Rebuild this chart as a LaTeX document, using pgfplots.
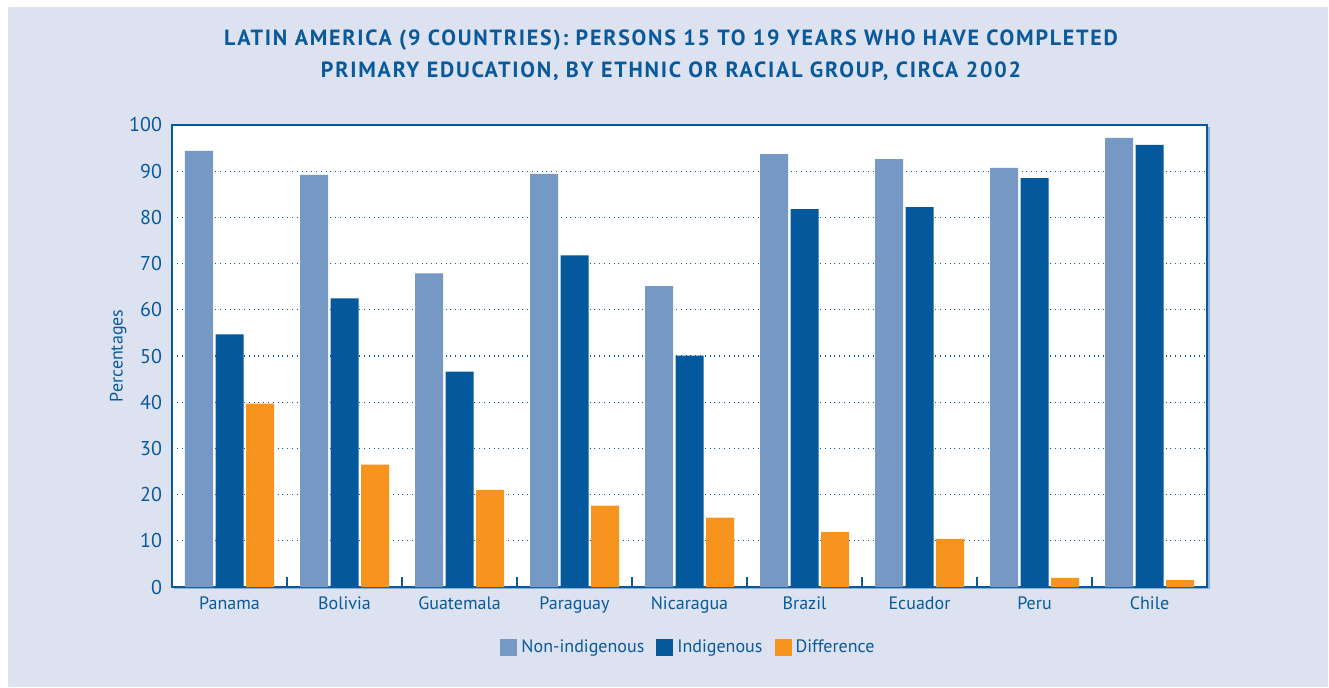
\documentclass[border=0pt]{standalone}
\usepackage{fontspec}
\setmainfont{PT Sans}
\newfontfamily\titlefont[LetterSpace=8]{PT Sans}
\usepackage{pgfplots}
\pgfplotsset{compat=1.18}
\definecolor{panel}{HTML}{DCE2EF}
\definecolor{nicol}{HTML}{7698C5}
\definecolor{icol}{HTML}{03599C}
\definecolor{dcol}{HTML}{F7941D}
\definecolor{txt}{HTML}{0A5A9B}
\definecolor{shadowcol}{HTML}{8CAEDA}
\begin{document}
\begin{tikzpicture}[x=0.5pt,y=0.5pt]
\fill[white] (0,0) rectangle (1329,687);
\fill[panel] (8,0) rectangle (1328,680);
\fill[shadowcol] (174,98) rectangle (1210,560);
\node[txt, font=\titlefont\fontsize{11}{12}\selectfont\bfseries] at (671,647) {LATIN AMERICA (9 COUNTRIES): PERSONS 15 TO 19 YEARS WHO HAVE COMPLETED};
\node[txt, font=\titlefont\fontsize{11}{12}\selectfont\bfseries] at (671,616) {PRIMARY EDUCATION, BY ETHNIC OR RACIAL GROUP, CIRCA 2002};
\begin{axis}[
  at={(86pt,50pt)}, anchor=south west,
  width=517.5pt, height=231pt, scale only axis,
  ymin=0, ymax=100, xmin=-0.5, xmax=8.5,
  ybar=1.25pt, bar width=14pt,
  xtick={0,...,8},
  xticklabels={Panama,Bolivia,Guatemala,Paraguay,Nicaragua,Brazil,Ecuador,Peru,Chile},
  major x tick style={draw=none},
  minor xtick={0.5,1.5,...,7.5},
  minor tick length=5pt,
  minor x tick style={draw=txt, line width=0.8pt},
  tick align=inside,
  xtick pos=left, ytick pos=left,
  ytick={0,10,...,100},
  /pgf/number format/assume math mode=true,
  major y tick style={draw=none},
  ymajorgrids,
  grid style={dotted, draw=txt, line width=0.6pt},
  axis line style={draw=txt, line width=1pt},
  axis background/.style={fill=white},
  xticklabel style={txt, font=\fontsize{9}{10}\selectfont, yshift=-1.5pt},
  yticklabel style={txt, font=\fontsize{10}{11}\selectfont, xshift=-1.5pt},
  ylabel={Percentages},
  ylabel style={txt, font=\fontsize{9}{10}\selectfont, at={(axis description cs:-0.052,0.5)}, anchor=center},
  legend style={at={(0.5,-0.132)}, anchor=center, draw=none, fill=none,
    legend columns=3, font=\fontsize{9}{10}\selectfont, text=txt,
    /tikz/every even column/.append style={column sep=4pt}},
]
\addplot[fill=nicol, draw=none, legend image code/.code={\fill[nicol] (0pt,-4.25pt) rectangle (8.5pt,4.25pt);}] coordinates {(0,94.4) (1,89.2) (2,67.9) (3,89.4) (4,65.1) (5,93.7) (6,92.6) (7,90.7) (8,97.2)};
\addplot[fill=icol, draw=none, legend image code/.code={\fill[icol] (0pt,-4.25pt) rectangle (8.5pt,4.25pt);}] coordinates {(0,54.7) (1,62.5) (2,46.6) (3,71.8) (4,50.1) (5,81.8) (6,82.2) (7,88.5) (8,95.7)};
\addplot[fill=dcol, draw=none, legend image code/.code={\fill[dcol] (0pt,-4.25pt) rectangle (8.5pt,4.25pt);}] coordinates {(0,39.7) (1,26.5) (2,21.0) (3,17.6) (4,15.0) (5,11.9) (6,10.4) (7,2.0) (8,1.5)};
\legend{Non-indigenous,Indigenous,Difference}
\end{axis}
\end{tikzpicture}
\end{document}
